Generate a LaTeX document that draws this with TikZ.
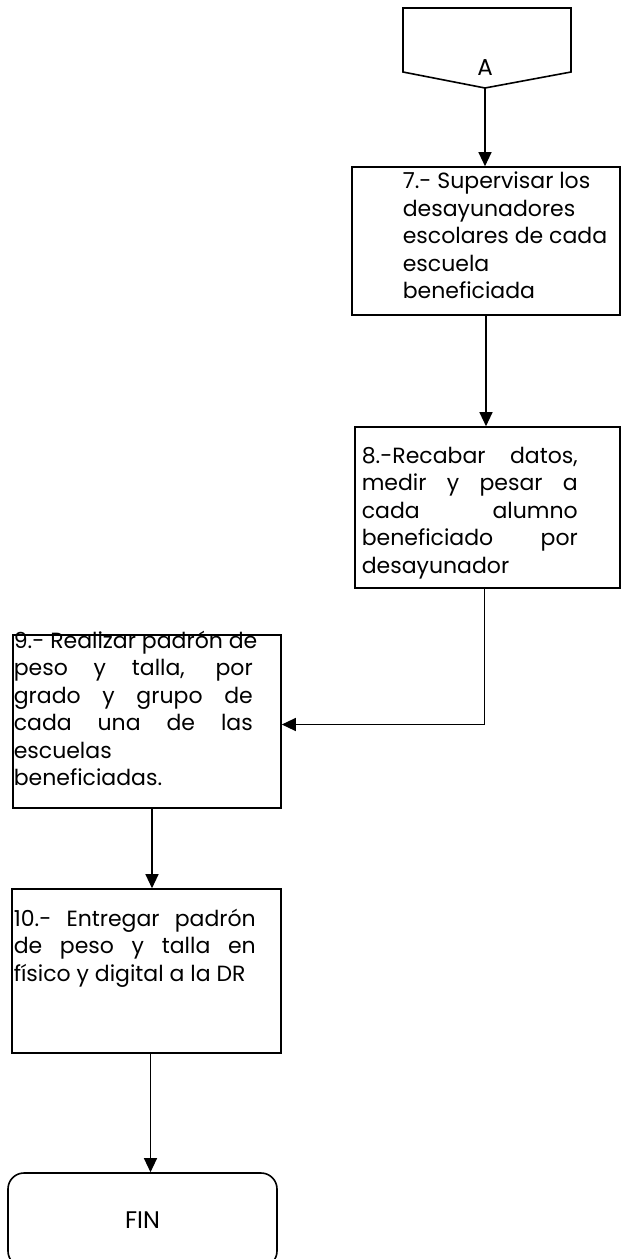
\documentclass[tikz,border=0pt]{standalone}
\usepackage{fontspec}
\setmainfont{Poppins}
\usetikzlibrary{arrows.meta}

\newcommand{\renglon}[2]{\makebox[#1][s]{#2}}

\begin{document}
\begin{tikzpicture}[x=1pt,y=-1pt,->,>={Triangle[length=14pt,width=13pt]},line width=1.2pt]
  \tikzstyle{paso}=[draw=black,line width=1.6pt,rectangle,inner sep=0pt]
  \tikzstyle{texto}=[anchor=north west,inner sep=0pt,align=left,font=\fontsize{22}{27.5}\selectfont]
  \useasboundingbox (0,0) rectangle (621,1259);

  % Nodes
  \draw[-,line width=1.6pt] (403,8) -- (571,8) -- (571,72) -- (485,88) coordinate (conA) -- (403,72) -- cycle;
  \node[font=\fontsize{23}{26}\selectfont] (A) at (485,68) {A};
  \node[paso,minimum width=268,minimum height=148,
    label={[texto,xshift=51pt,yshift=-5pt]north west:{7.- Supervisar los\\desayunadores\\escolares de cada\\escuela\\beneficiada}}] (p7) at (486,241) {};
  \node[paso,minimum width=265,minimum height=161,
    label={[texto,xshift=7pt,yshift=-20pt]north west:{\renglon{216pt}{8.-Recabar datos,}\\\renglon{216pt}{medir y pesar a}\\\renglon{216pt}{cada alumno}\\\renglon{216pt}{beneficiado por}\\desayunador}}] (p8) at (487.5,507.5) {};
  \node[paso,minimum width=268,minimum height=173,
    label={[texto,xshift=1pt,yshift=4pt]north west:{9.- Realizar padrón de\\\renglon{239pt}{peso y talla, por}\\\renglon{239pt}{grado y grupo de}\\\renglon{239pt}{cada una de las}\\escuelas\\beneficiadas.}}] (p9) at (147,721.5) {};
  \node[paso,minimum width=269,minimum height=164,
    label={[texto,xshift=2pt,yshift=-20pt]north west:{\renglon{242pt}{10.- Entregar padrón}\\\renglon{242pt}{de peso y talla en}\\físico y digital a la DR}}] (p10) at (146.5,971) {};
  \node[paso,rounded corners=16pt,minimum width=269,minimum height=94,font=\fontsize{24}{28}\selectfont] (fin) at (142.5,1220) {FIN};

  % Arrows
  \draw (conA) -- (conA |- p7.north);
  \draw (p7.south) -- (p7.south |- p8.north);
  \draw ([xshift=-3pt]p8.south) |- ([yshift=-3pt]p9.east);       % 8 goes back to the left column
  \draw ([xshift=5pt]p9.south) -- ([xshift=5pt]p9.south |- p10.north);
  \draw ([xshift=4pt]p10.south) -- ([xshift=4pt]p10.south |- fin.north);
\end{tikzpicture}
\end{document}
